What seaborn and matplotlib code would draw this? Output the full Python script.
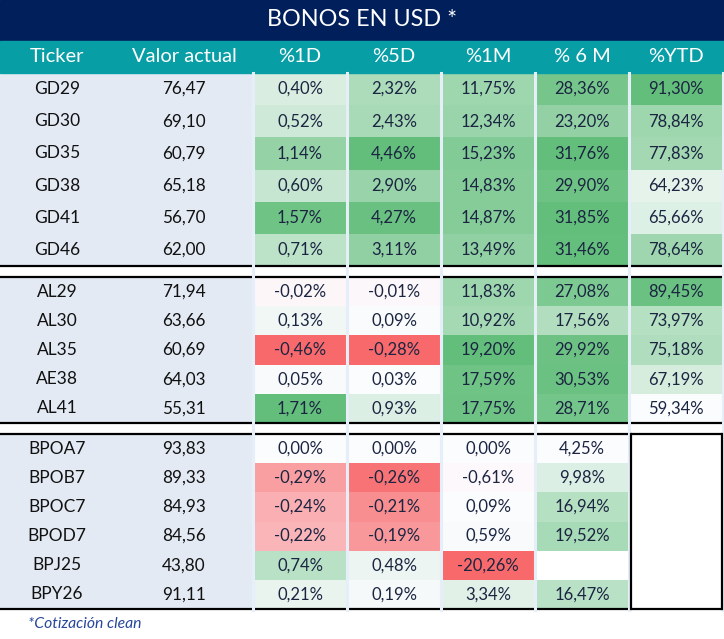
import numpy as np
import pandas as pd
import seaborn as sns
import matplotlib.pyplot as plt
from matplotlib.colors import LinearSegmentedColormap
from matplotlib.lines import Line2D
from matplotlib.patches import Rectangle
from matplotlib import transforms

# ---- data ----
cols = ['%1D', '%5D', '%1M', '% 6 M', '%YTD']

tickers_gd = ['GD29', 'GD30', 'GD35', 'GD38', 'GD41', 'GD46']
valor_gd = [76.47, 69.10, 60.79, 65.18, 56.70, 62.00]
d1_gd = [0.40, 0.52, 1.14, 0.60, 1.57, 0.71]
d5_gd = [2.32, 2.43, 4.46, 2.90, 4.27, 3.11]
m1_gd = [11.75, 12.34, 15.23, 14.83, 14.87, 13.49]
m6_gd = [28.36, 23.20, 31.76, 29.90, 31.85, 31.46]
ytd_gd = [91.30, 78.84, 77.83, 64.23, 65.66, 78.64]

tickers_al = ['AL29', 'AL30', 'AL35', 'AE38', 'AL41']
valor_al = [71.94, 63.66, 60.69, 64.03, 55.31]
d1_al = [-0.02, 0.13, -0.46, 0.05, 1.71]
d5_al = [-0.01, 0.09, -0.28, 0.03, 0.93]
m1_al = [11.83, 10.92, 19.20, 17.59, 17.75]
m6_al = [27.08, 17.56, 29.92, 30.53, 28.71]
ytd_al = [89.45, 73.97, 75.18, 67.19, 59.34]

tickers_bp = ['BPOA7', 'BPOB7', 'BPOC7', 'BPOD7', 'BPJ25', 'BPY26']
valor_bp = [93.83, 89.33, 84.93, 84.56, 43.80, 91.11]
d1_bp = [0.00, -0.29, -0.24, -0.22, 0.74, 0.21]
d5_bp = [0.00, -0.26, -0.21, -0.19, 0.48, 0.19]
m1_bp = [0.00, -0.61, 0.09, 0.59, -20.26, 3.34]
m6_bp = [4.25, 9.98, 16.94, 19.52, np.nan, 16.47]
ytd_bp = [np.nan] * 6


def make_df(tickers, *series):
    return pd.DataFrame(dict(zip(cols, series)), index=tickers)


g1 = make_df(tickers_gd, d1_gd, d5_gd, m1_gd, m6_gd, ytd_gd)
g2 = make_df(tickers_al, d1_al, d5_al, m1_al, m6_al, ytd_al)
g3 = make_df(tickers_bp, d1_bp, d5_bp, m1_bp, m6_bp, ytd_bp)

# per-column colour scale like the spreadsheet: red (min) - white - green (max)
allpct = pd.concat([g1, g2, g3])
mn = allpct.min()
mx = allpct.max()
lo = mn.clip(lower=0)


def normalize(df):
    pos = (df - lo) / (mx - lo)
    neg = df / mn.abs()
    return pos.where(df >= 0, neg)


def fmt_num(v, pct=True):
    if pd.isna(v):
        return ''
    s = f'{v:.2f}'.replace('.', ',')
    return s + '%' if pct else s


cmap = LinearSegmentedColormap.from_list('rwg', ['#f8696b', '#fcfcff', '#63be7b'])

# ---- layout ----
W, H = 724, 639
FONT = 'Lato'
plt.rcParams['font.family'] = [FONT, 'DejaVu Sans']
fig = plt.figure(figsize=(W / 100, H / 100), dpi=100)


def fx(x):
    return x / W


def fy(y):
    return 1 - y / H


fig.add_artist(Rectangle((0, fy(41)), 1, 41 / H, transform=fig.transFigure,
                         color='#001f5b', zorder=0.5))
fig.add_artist(Rectangle((0, fy(73)), 1, 32 / H, transform=fig.transFigure,
                         color='#089ea6', zorder=0.5))
fig.text(0.5, fy(20), 'BONOS EN USD *', ha='center', va='center',
         color='white', fontsize=16.8)

groups = [
    (g1, valor_gd, 73, 266),
    (g2, valor_al, 277, 423),
    (g3, valor_bp, 434, 609),
]

txt_col = '#1b2541'
heat_axes = []
left_axes = []
for df, valor, y0, y1 in groups:
    n = len(df)
    axL = fig.add_axes([0, fy(y1), fx(253), (y1 - y0) / H])
    axL.set_facecolor('#e3eaf4')
    axL.set_xlim(0, 253)
    axL.set_ylim(n, 0)
    axL.set_xticks([])
    axL.set_yticks([])
    for s in axL.spines.values():
        s.set_visible(False)
    for i, (t, v) in enumerate(zip(df.index, valor)):
        axL.text(57, i + 0.5, t, ha='center', va='center', fontsize=12.5, color='#111111')
        axL.text(184, i + 0.5, fmt_num(v, pct=False), ha='center', va='center',
                 fontsize=12.3, color='#111111')

    axH = fig.add_axes([fx(253), fy(y1), fx(723) - fx(253), (y1 - y0) / H])
    labels = df.apply(lambda c: c.map(fmt_num))
    sns.heatmap(normalize(df), ax=axH, cmap=cmap, vmin=-1, vmax=1, cbar=False,
                annot=labels.values, fmt='', linewidths=0,
                xticklabels=False, yticklabels=False,
                annot_kws=dict(fontsize=12, color=txt_col, family=FONT))
    axH.set_xlabel('')
    axH.set_ylabel('')
    heat_axes.append(axH)
    left_axes.append(axL)

# header labels
trL = transforms.blended_transform_factory(left_axes[0].transData, fig.transFigure)
fig.text(57, fy(57), 'Ticker', transform=trL, ha='center', va='center',
         color='white', fontsize=14.5)
fig.text(184, fy(57), 'Valor actual', transform=trL, ha='center', va='center',
         color='white', fontsize=14.5)
trH = transforms.blended_transform_factory(heat_axes[0].transData, fig.transFigure)
for i, c in enumerate(cols):
    fig.text(i + 0.5, fy(57), c, transform=trH, ha='center', va='center',
             color='white', fontsize=14.5)

# black group borders
for y in [266, 277, 423, 434, 609]:
    fig.add_artist(Line2D([0, 1], [fy(y), fy(y)], transform=fig.transFigure,
                          color='black', lw=1.6, zorder=4))

# light column separators
for x in [253, 347, 441, 535, 629, 723]:
    fig.add_artist(Line2D([fx(x), fx(x)], [fy(73), fy(610)], transform=fig.transFigure,
                          color='#e6eef9', lw=2.2, zorder=5))

# box around empty YTD cells of last group
for x in [631, 722]:
    fig.add_artist(Line2D([fx(x), fx(x)], [fy(434), fy(609)], transform=fig.transFigure,
                          color='black', lw=1.6, zorder=6))

fig.text(fx(28), fy(624), '*Cotización clean', ha='left', va='center',
         color='#27479a', fontsize=11.3, style='italic')

fig.savefig('out.png', dpi=100)
